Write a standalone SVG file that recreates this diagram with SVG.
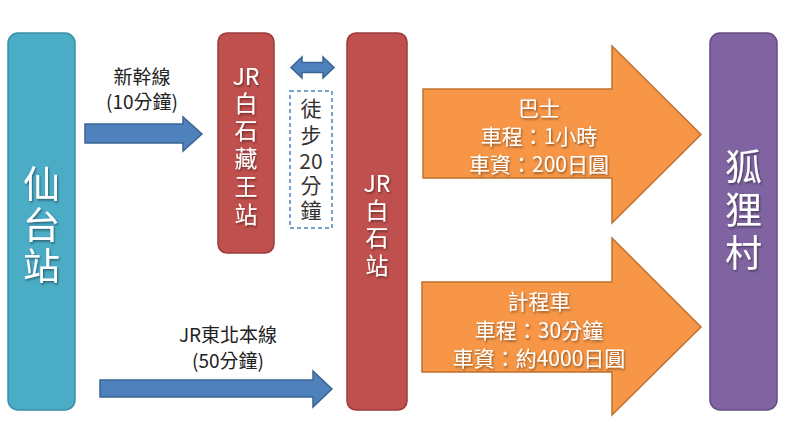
<svg xmlns="http://www.w3.org/2000/svg" width="800" height="440" viewBox="0 0 800 440">
<defs>
<style>
text{font-family:"Noto Sans CJK TC","Noto Sans",sans-serif;text-anchor:middle;dominant-baseline:central}
.v{writing-mode:vertical-rl;text-anchor:start}
.w{fill:#fff;filter:url(#sh)}
.big{font-size:37px}
.mid{font-size:23px}
.ot{font-size:21px}
.lbl{font-size:19px;fill:#222}
.dt{font-size:21px;fill:#333}
.blue{fill:#4F81BD;stroke:#3A6494;stroke-width:1.5}
.orange{fill:#F79646;stroke:#C0702F;stroke-width:1.5}
</style>
<filter id="sh" x="-20%" y="-20%" width="140%" height="140%">
<feDropShadow dx="1" dy="1.5" stdDeviation="0.8" flood-color="#000" flood-opacity="0.45"/>
</filter>
</defs>
<rect width="800" height="440" fill="#fff"/>
<g id="sendai">
<rect x="8" y="33" width="67" height="377" rx="10" fill="#4BACC6" stroke="#3A8FA6" stroke-width="1.5"/>
<text class="w big v" x="41.5" y="165.5" letter-spacing="4">仙台站</text>
</g>
<g id="shiroishi-zao">
<rect x="218" y="33" width="56" height="220" rx="9" fill="#C0504D" stroke="#9A3B39" stroke-width="1.5"/>
<text class="w mid" x="246" y="75">JR</text>
<text class="w mid v" x="246" y="91.5" letter-spacing="4.75">白石藏王站</text>
</g>
<g id="shiroishi">
<rect x="347" y="33" width="60" height="377" rx="9" fill="#C0504D" stroke="#9A3B39" stroke-width="1.5"/>
<text class="w mid" x="377" y="182">JR</text>
<text class="w mid v" x="377" y="198.5" letter-spacing="4.5">白石站</text>
</g>
<g id="kitsune">
<rect x="710" y="33" width="67" height="377" rx="10" fill="#8064A2" stroke="#644C82" stroke-width="1.5"/>
<text class="w big v" x="743.5" y="148.5" letter-spacing="6">狐狸村</text>
</g>
<g id="walk">
<rect x="290" y="91" width="42" height="137" fill="none" stroke="#4F81BD" stroke-width="1.5" stroke-dasharray="4,3"/>
<text class="dt v" x="311" y="97.5" letter-spacing="6">徒步</text>
<text class="dt" x="311" y="160">20</text>
<text class="dt v" x="311" y="174.5" letter-spacing="4">分鐘</text>
</g>
<g id="connectors">
<polygon class="blue" points="85,124 183,124 183,117 202,134 183,151 183,143 85,143"/>
<polygon class="blue" points="100,380 313,380 313,371 332,389 313,407 313,397 100,397"/>
<polygon class="blue" points="291,67.5 302,57 302,62.5 323,62.5 323,57 334,67.5 323,78 323,72.5 302,72.5 302,78"/>
<polygon class="orange" points="423,89 612,89 612,46 701,134.5 612,223 612,178 423,178"/>
<polygon class="orange" points="422,282 612,282 612,238 701,327 612,415 612,372 422,372"/>
<text class="lbl" x="142" y="75">新幹線</text>
<text class="lbl" x="142" y="100">(10分鐘)</text>
<text class="lbl" x="228" y="333">JR東北本線</text>
<text class="lbl" x="228" y="359">(50分鐘)</text>
<text class="w ot" x="539" y="107">巴士</text>
<text class="w ot" x="539" y="135">車程：1小時</text>
<text class="w ot" x="539" y="163">車資：200日圓</text>
<text class="w ot" x="539" y="300">計程車</text>
<text class="w ot" x="539" y="329">車程：30分鐘</text>
<text class="w ot" x="539" y="357">車資：約4000日圓</text>
</g>
</svg>
